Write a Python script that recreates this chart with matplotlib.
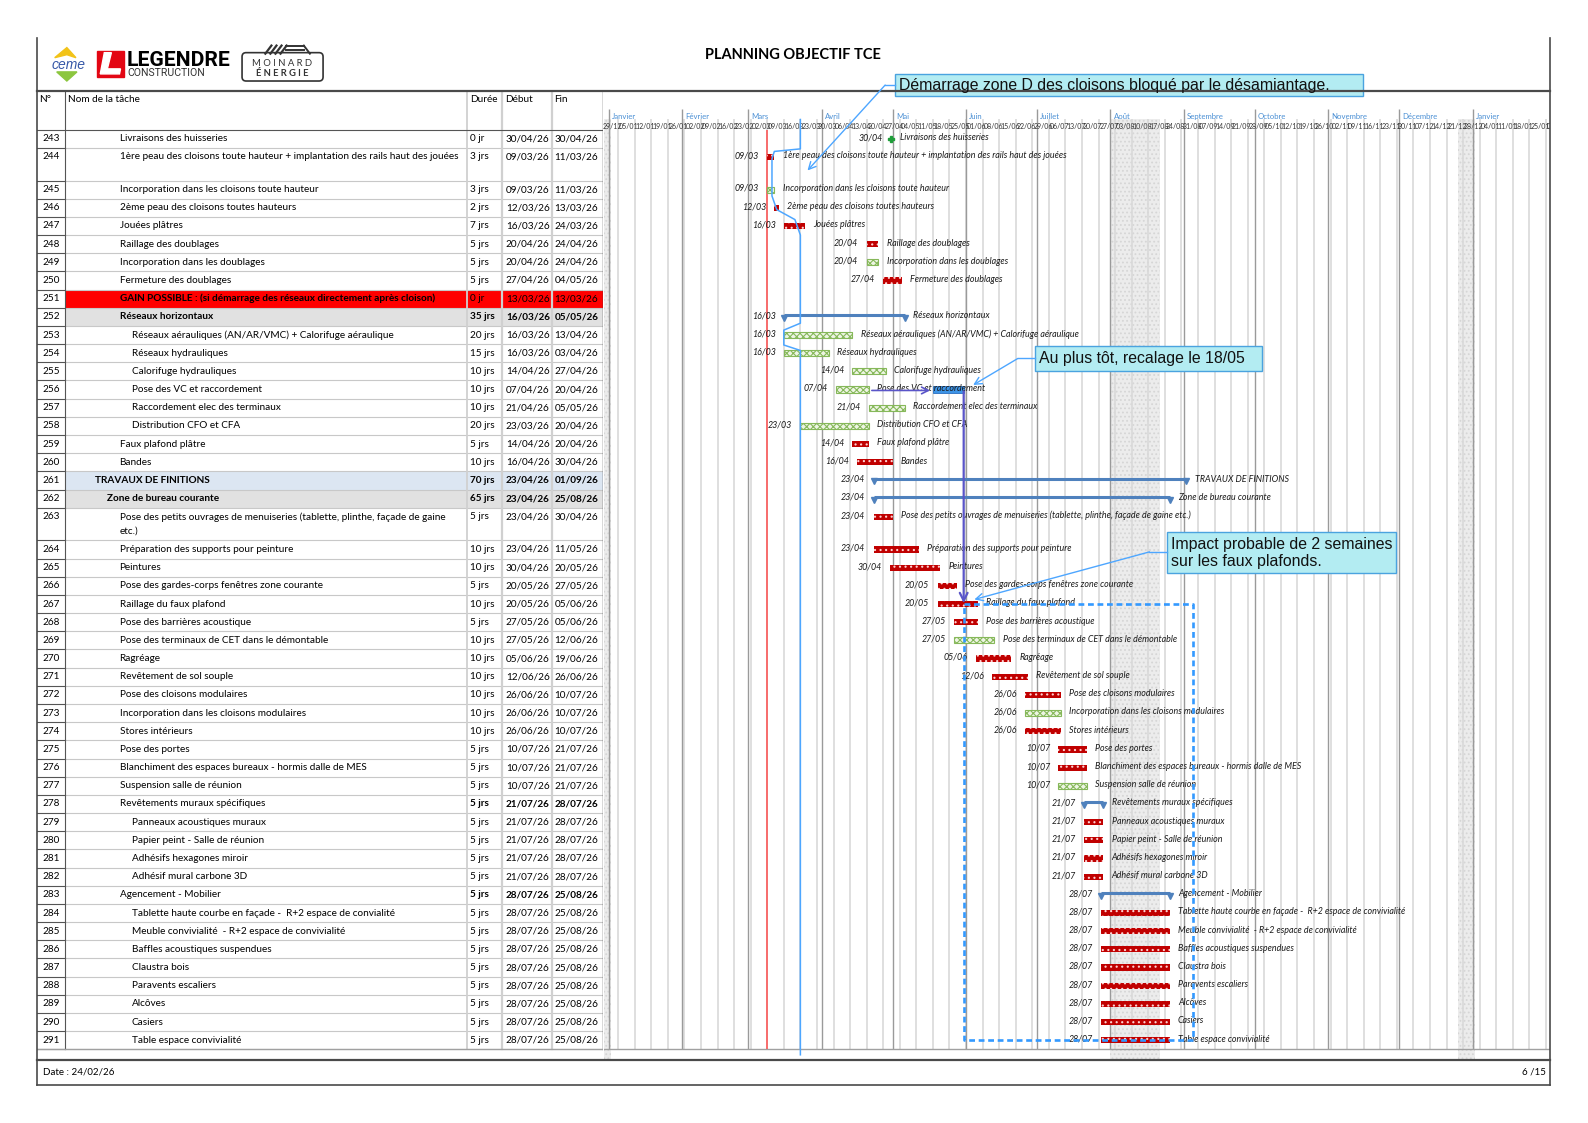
import datetime as dt
import numpy as np
import matplotlib
matplotlib.use('Agg')
import matplotlib.pyplot as plt
import matplotlib.dates as mdates
from matplotlib.patches import Rectangle, Polygon, FancyBboxPatch

plt.rcParams['font.family'] = ['Lato', 'DejaVu Sans']
plt.rcParams['hatch.linewidth'] = 0.8

# --- données du planning ---
ids = list(range(243, 292))
names = [
    "Livraisons des huisseries",
    "1ère peau des cloisons toute hauteur + implantation des rails haut des jouées",
    "Incorporation dans les cloisons toute hauteur",
    "2ème peau des cloisons toutes hauteurs",
    "Jouées plâtres",
    "Raillage des doublages",
    "Incorporation dans les doublages",
    "Fermeture des doublages",
    "GAIN POSSIBLE : (si démarrage des réseaux directement après cloison)",
    "Réseaux horizontaux",
    "Réseaux aérauliques (AN/AR/VMC) + Calorifuge aéraulique",
    "Réseaux hydrauliques",
    "Calorifuge hydrauliques",
    "Pose des VC et raccordement",
    "Raccordement elec des terminaux",
    "Distribution CFO et CFA",
    "Faux plafond plâtre",
    "Bandes",
    "TRAVAUX DE FINITIONS",
    "Zone de bureau courante",
    "Pose des petits ouvrages de menuiseries (tablette, plinthe, façade de gaine\netc.)",
    "Préparation des supports pour peinture",
    "Peintures",
    "Pose des gardes-corps fenêtres zone courante",
    "Raillage du faux plafond",
    "Pose des barrières acoustique",
    "Pose des terminaux de CET dans le démontable",
    "Ragréage",
    "Revêtement de sol souple",
    "Pose des cloisons modulaires",
    "Incorporation dans les cloisons modulaires",
    "Stores intérieurs",
    "Pose des portes",
    "Blanchiment des espaces bureaux - hormis dalle de MES",
    "Suspension salle de réunion",
    "Revêtements muraux spécifiques",
    "Panneaux acoustiques muraux",
    "Papier peint - Salle de réunion",
    "Adhésifs hexagones miroir",
    "Adhésif mural carbone 3D",
    "Agencement - Mobilier",
    "Tablette haute courbe en façade -  R+2 espace de convialité",
    "Meuble convivialité  - R+2 espace de convivialité",
    "Baffles acoustiques suspendues",
    "Claustra bois",
    "Paravents escaliers",
    "Alcôves",
    "Casiers",
    "Table espace convivialité",
]
gantt_names = {284: "Tablette haute courbe en façade -  R+2 espace de convivialité"}

durees = ["0 jr", "3 jrs", "3 jrs", "2 jrs", "7 jrs", "5 jrs", "5 jrs", "5 jrs", "0 jr",
          "35 jrs", "20 jrs", "15 jrs", "10 jrs", "10 jrs", "10 jrs", "20 jrs", "5 jrs", "10 jrs",
          "70 jrs", "65 jrs", "5 jrs", "10 jrs", "10 jrs", "5 jrs", "10 jrs", "5 jrs", "10 jrs",
          "10 jrs", "10 jrs", "10 jrs", "10 jrs", "10 jrs", "5 jrs", "5 jrs", "5 jrs", "5 jrs",
          "5 jrs", "5 jrs", "5 jrs", "5 jrs", "5 jrs"] + ["5 jrs"] * 8
debuts = ["30/04/26", "09/03/26", "09/03/26", "12/03/26", "16/03/26", "20/04/26", "20/04/26",
          "27/04/26", "13/03/26", "16/03/26", "16/03/26", "16/03/26", "14/04/26", "07/04/26",
          "21/04/26", "23/03/26", "14/04/26", "16/04/26", "23/04/26", "23/04/26", "23/04/26",
          "23/04/26", "30/04/26", "20/05/26", "20/05/26", "27/05/26", "27/05/26", "05/06/26",
          "12/06/26", "26/06/26", "26/06/26", "26/06/26", "10/07/26", "10/07/26", "10/07/26",
          "21/07/26", "21/07/26", "21/07/26", "21/07/26", "21/07/26"] + ["28/07/26"] * 9
fins = ["30/04/26", "11/03/26", "11/03/26", "13/03/26", "24/03/26", "24/04/26", "24/04/26",
        "04/05/26", "13/03/26", "05/05/26", "13/04/26", "03/04/26", "27/04/26", "20/04/26",
        "05/05/26", "20/04/26", "20/04/26", "30/04/26", "01/09/26", "25/08/26", "30/04/26",
        "11/05/26", "20/05/26", "27/05/26", "05/06/26", "05/06/26", "12/06/26", "19/06/26",
        "26/06/26", "10/07/26", "10/07/26", "10/07/26", "21/07/26", "21/07/26", "21/07/26",
        "28/07/26", "28/07/26", "28/07/26", "28/07/26", "28/07/26"] + ["25/08/26"] * 9
levels = [2] * 10 + [3] * 6 + [2, 2, 0, 1] + [2] * 16 + [3] * 4 + [2] + [3] * 8
# m = jalon, r = tâche rouge, g = tâche verte, s = récapitulative, n = rien
kinds = ["m", "r", "g", "r", "r", "r", "g", "r", "n", "s", "g", "g", "g", "g", "g", "g",
         "r", "r", "s", "s", "r", "r", "r", "r", "r", "r", "g", "r", "r", "r", "g", "r",
         "r", "r", "g", "s", "r", "r", "r", "r", "s"] + ["r"] * 8
bold_names = [251, 252, 261, 262]
bold_nums = [252, 261, 262, 278, 283]
row_bg = {251: "#ff0000", 252: "#e1e1e1", 261: "#dce6f2", 262: "#e1e1e1"}
double_rows = [244, 263]

mois = ["Janvier", "Février", "Mars", "Avril", "Mai", "Juin", "Juillet", "Août",
        "Septembre", "Octobre", "Novembre", "Décembre", "Janvier"]
conges = [("29/12/25", "02/01/26"), ("01/08/26", "22/08/26"), ("26/12/26", "02/01/27")]
date_etat = "09/03/26"
recalage = ("18/05/26", "30/05/26")   # Pose des VC, au plus tôt
impact_fin = "05/09/26"


def dn(s):
    d, m, y = s.split("/")
    return mdates.date2num(dt.date(2000 + int(y), int(m), int(d)))


# --- mise en page (pixels de la page) ---
W, H = 1568, 1109
ROW_PX = 17.95
TOP_PX, BOT_PX = 90, 1046
HEAD = 38 / ROW_PX
Y_END = (BOT_PX - TOP_PX) / ROW_PX
heights = np.array([1.8 if i in double_rows else 1.0 for i in ids])
tops = HEAD + np.concatenate([[0], np.cumsum(heights)[:-1]])
anchor = tops + 0.5
y_last = tops[-1] + 1
row = {i: k for k, i in enumerate(ids)}

fig = plt.figure(figsize=(15.88, 11.23), dpi=100)


def area(x0, x1):
    return [x0 / W, 1 - BOT_PX / H, (x1 - x0) / W, (BOT_PX - TOP_PX) / H]


tab = fig.add_axes(area(37, 595))
tab.set_xlim(37, 595)
tab.set_ylim(Y_END, 0)
tab.axis("off")

gan = fig.add_axes(area(596, 1530))
jan1 = dn("01/01/26")
PX_DAY = 2.337
gan.set_xlim(jan1 + (596 - 601) / PX_DAY, jan1 + (1530 - 601) / PX_DAY)
gan.set_ylim(Y_END, 0)
gan.axis("off")

page = fig.add_axes([0, 0, 1, 1], zorder=5)
page.set_xlim(0, W)
page.set_ylim(H, 0)
page.axis("off")
page.patch.set_alpha(0)

# --- tableau ---
FS = 7.2
indent = {0: 94, 1: 106, 2: 118, 3: 130}
for k, i in enumerate(ids):
    t, h = tops[k], heights[k]
    if i in row_bg:
        tab.add_patch(Rectangle((64, t), 531, h, color=row_bg[i], lw=0))
    tab.plot([64, 595], [t + h, t + h], color="#c8c8c8", lw=0.8)
    tab.plot([37, 64], [t + h, t + h], color="#555555", lw=0.8)
    y = anchor[k]
    tab.text(51, y, str(i), ha="center", va="center", fontsize=FS)
    wname = "bold" if i in bold_names else "normal"
    for j, ln in enumerate(names[k].split("\n")):
        tab.text(indent[levels[k]], y + 0.8 * j, ln, ha="left", va="center",
                 fontsize=FS, fontweight=wname)
    wnum = "bold" if i in bold_nums else "normal"
    tab.text(464, y, durees[k], ha="left", va="center", fontsize=FS, fontweight=wnum)
    tab.text(499.5, y, debuts[k], ha="left", va="center", fontsize=FS, fontweight=wnum)
    tab.text(547.5, y, fins[k], ha="left", va="center", fontsize=FS, fontweight=wnum)

for x, c, lw in [(461, "#d0d0d0", 1.3), (496, "#d0d0d0", 1.6), (545, "#d0d0d0", 1.6),
                 (64, "#555555", 0.8), (595, "#404040", 1.0)]:
    tab.plot([x, x], [0, y_last], color=c, lw=lw)
tab.plot([37, 595], [HEAD, HEAD], color="#555555", lw=0.8)
for x, lab in [(39, "N°"), (67, "Nom de la tâche"), (464, "Durée"), (499, "Début"), (547, "Fin")]:
    tab.text(x, 0.2, lab, ha="left", va="top", fontsize=FS)

# --- diagramme de Gantt ---
first_monday = dn("29/12/25")
mondays = np.arange(first_monday, jan1 + 400, 7)
month_starts = [mdates.date2num(dt.date(2026 + (m // 12), m % 12 + 1, 1)) for m in range(13)]

for a, b in conges:
    gan.axvspan(dn(a), dn(b), ymin=0, ymax=1 - 1.56 / Y_END, facecolor="#ececec",
                edgecolor="#d6d6d6", hatch="....", lw=0, zorder=0)
gan.vlines(mondays, 1.56, y_last, color="#d9d9d9", lw=1.2, zorder=1)
gan.vlines(month_starts, 1.0, y_last, color="#9a9a9a", lw=1.0, zorder=1)
gan.plot(gan.get_xlim(), [y_last, y_last], color="#a0a0a0", lw=1)
tab.plot([37, 595], [y_last, y_last], color="#a0a0a0", lw=1)

for m, name in zip(month_starts, mois):
    gan.text(m + 1.3, 1.39, name, ha="left", va="center", fontsize=5.6, color="#4a8fd4")
for mo in mondays:
    lab = mdates.num2date(mo).strftime("%d/%m")
    gan.text(mo + 0.4, 1.95, lab, ha="left", va="center", fontsize=5.0, color="#333333",
             clip_on=mo > jan1 + 380)

gan.vlines(dn(date_etat), HEAD, y_last, color="#ff4d4d", lw=1.1, zorder=3)

RED, GREEN_E, GREEN_F, BLUE_S = "#c00000", "#86b85a", "#eef5e4", "#4f81bd"
BH = 0.34
lab_kw = dict(textcoords="offset points", va="center", fontsize=6.4, style="italic",
              color="#1a1a1a", zorder=6)
for k, i in enumerate(ids):
    kind = kinds[k]
    if kind == "n":
        continue
    y = anchor[k]
    s = dn(debuts[k])
    e = dn(fins[k]) + 1
    if kind == "r":
        gan.barh(y, e - s, left=s, height=BH, color=RED, lw=0, zorder=4)
        gan.barh(y, e - s, left=s, height=BH, fill=False, hatch="...", edgecolor="#ffd0d0",
                 lw=0, zorder=4)
    elif kind == "g":
        gan.barh(y, e - s, left=s, height=BH, facecolor=GREEN_F, edgecolor=GREEN_E,
                 hatch="xxxxx", lw=0.8, zorder=4)
    elif kind == "s":
        gan.plot([s, e], [y - 0.1, y - 0.1], color=BLUE_S, lw=2.2, solid_capstyle="butt", zorder=4)
        gan.plot([s, e], [y + 0.05, y + 0.05], "v", color=BLUE_S, ms=4.2, zorder=4)
    else:
        s = e = s + 0.5
        gan.plot(s, y, "P", color="#1f9e3a", ms=5, zorder=4)
    gname = gantt_names.get(i, names[k].replace("\n", " "))
    gan.annotate(debuts[k][:5], (s, y), xytext=(-6, 0.8), ha="right", **lab_kw)
    gan.annotate(gname, (e, y), xytext=(6, 0.8), ha="left", **lab_kw)

# recalage de la pose des VC
k256, k267 = row[256], row[267]
rs, re_ = dn(recalage[0]), dn(recalage[1]) + 1
gan.barh(anchor[k256], re_ - rs, left=rs, height=BH + 0.06, color="#3d94e6",
         edgecolor="#2a6fc0", lw=0.6, zorder=5)
gan.annotate("", xy=(rs - 1.2, anchor[k256] + 0.05), xytext=(dn(fins[k256]) + 2.2, anchor[k256] + 0.05),
             arrowprops=dict(arrowstyle="->", color="#5a55c8", lw=1.2, shrinkA=0, shrinkB=0,
                             mutation_scale=12), zorder=6)
gan.annotate("", xy=(re_, anchor[k267] - 0.05), xytext=(re_, anchor[k256] + 0.1),
             arrowprops=dict(arrowstyle="->", color="#5a55c8", lw=1.6, shrinkA=0, shrinkB=0,
                             mutation_scale=14), zorder=6)

# cadre pointillé de l'impact
r291 = row[291]
xi = dn(impact_fin)
gan.plot([re_, xi, xi, re_, re_], [anchor[k267], anchor[k267], anchor[r291], anchor[r291], anchor[k267]],
         color="#3399ff", lw=1.9, ls=(0, (2.2, 1.4)), zorder=7)

# trait de décalage tracé à la main
k244, k245, k246, k247 = row[244], row[245], row[246], row[247]
k252, k253, k254 = row[252], row[253], row[254]
d23, d11, d12, d13, d16 = dn("23/03/26"), dn("11/03/26"), dn("12/03/26"), dn("13/03/26"), dn("16/03/26")
px = [d23, d23, d12, d11, d11, d13, d16 + 4.7, d23, d23, d16, d16, d23, d23]
py = [1.56, tops[k244] + 0.06, tops[k244] + 0.2, tops[k244] + 0.6, tops[k245] + 0.85,
      anchor[k246] + 0.1, tops[k247] + 0.15, tops[k247] + 1.0, tops[k252] + 0.85,
      tops[k253] + 0.23, tops[k254] + 0.05, tops[k254] + 0.35, y_last + 0.3]
gan.plot(px, py, color="#4da6ff", lw=1.1, zorder=6)

# --- bulles de commentaire ---
CALL = "#4da6ff"
callouts = [
    ("Démarrage zone D des cloisons bloqué par le désamiantage.", (884, 73, 1346, 95)),
    ("Au plus tôt, recalage le 18/05", (1022, 342, 1246, 366)),
    ("Impact probable de 2 semaines\nsur les faux plafonds.", (1152, 525, 1378, 566)),
]
for txt, (x0, y0, x1, y1) in callouts:
    page.add_patch(Rectangle((x0, y0), x1 - x0, y1 - y0, facecolor="#b3ecf2",
                             edgecolor="#4aa3df", lw=1))
    page.text(x0 + 4, (y0 + y1) / 2 + 0.5, txt, ha="left", va="center", fontsize=11.4,
              family=["Liberation Sans"], linespacing=1.2, color="#111111")


def leader(bx, by, ex, target):
    page.plot([bx, ex], [by, by], color=CALL, lw=1)
    page.annotate("", xy=target, xycoords=gan.transData, xytext=(ex, by), textcoords="data",
                  arrowprops=dict(arrowstyle="->", color=CALL, lw=1, shrinkA=0, shrinkB=0,
                                  mutation_scale=13), annotation_clip=False)


leader(884, 84, 874, (dn("26/03/26"), tops[k244] + 1.25))
leader(1022, 354, 1005, (re_ + 4, anchor[k256] - 0.25))
leader(1152, 545, 1135, (re_ + 4.5, anchor[k267] - 0.25))

# --- en-tête, cadre, pied de page ---
for xs, ys, lw in [([37, 37], [38, 1071], 1.2), ([1530, 1530], [38, 1071], 1.2),
                   ([37, 1530], [90, 90], 1.6), ([37, 1530], [1047, 1047], 1.6),
                   ([37, 1530], [1071, 1071], 1.2)]:
    page.plot(xs, ys, color="#4a4a4a", lw=lw)
page.text(783, 54, "PLANNING OBJECTIF TCE", ha="center", va="center", fontsize=10.5,
          fontweight="bold")
page.text(42, 1059, "Date : 24/02/26", ha="left", va="center", fontsize=7)
page.text(1526, 1059, "6 /15", ha="right", va="center", fontsize=7)

# logos
page.add_patch(Polygon([(54, 57), (66, 47), (75, 57), (66, 54)], color="#f2c318"))
page.text(68, 64, "ceme", ha="center", va="center", fontsize=10, style="italic",
          color="#3557a7", family=["Liberation Sans"])
page.add_patch(Polygon([(56, 71), (76, 71), (66, 80)], color="#8cc63f"))
page.add_patch(Rectangle((96, 50), 26, 26, color="#e30613"))
page.add_patch(Polygon([(103, 52), (110, 52), (106, 68), (119, 68), (118, 73), (99, 73)],
                       color="white"))
page.text(125, 60, "LEGENDRE", ha="left", va="center", fontsize=15.2, fontweight="bold",
          family=["Roboto"])
page.text(126, 72, "CONSTRUCTION", ha="left", va="center", fontsize=7.6, color="#333333",
          family=["Roboto"])
page.add_patch(FancyBboxPatch((240, 53), 78, 26, boxstyle="round,pad=1,rounding_size=4",
                              facecolor="none", edgecolor="#333333", lw=1.2))
for dx in range(4):
    page.plot([262 + 5 * dx, 268 + 5 * dx], [53, 45], color="#333333", lw=1.6)
page.plot([282, 300], [45, 45], color="#333333", lw=1.4)
page.plot([282, 300], [49, 49], color="#333333", lw=1.4)
page.plot([300, 306], [45, 53], color="#333333", lw=1.4)
page.text(279, 63, "M O I N A R D", ha="center", va="center", fontsize=6.8, color="#333333")
page.text(279, 73, "É N E R G I E", ha="center", va="center", fontsize=6.8, fontweight="bold",
          color="#333333")

fig.savefig("out.png", dpi=100)
